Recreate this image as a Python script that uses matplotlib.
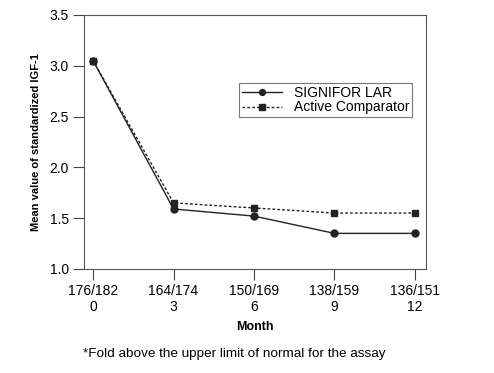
import matplotlib
matplotlib.use('Agg')
import matplotlib.pyplot as plt

plt.rcParams['font.family'] = ['Liberation Sans', 'DejaVu Sans']

months = [0, 3, 6, 9, 12]
n_labels = ['176/182', '164/174', '150/169', '138/159', '136/151']
signifor = [3.05, 1.59, 1.52, 1.35, 1.35]
comparator = [3.05, 1.65, 1.60, 1.55, 1.55]

fig = plt.figure(figsize=(4.94, 3.73), dpi=100)
ax = fig.add_axes([0.170, 0.279, 0.692, 0.681])

ax.plot(months, signifor, color='#222222', lw=1.0, marker='o', ms=5,
        label='SIGNIFOR LAR')
ax.plot(months, comparator, color='#222222', lw=1.0, ls=(0, (2, 1.5)),
        marker='s', ms=5, label='Active Comparator')

ax.set_xlim(-0.34, 12.41)
ax.set_ylim(1.0, 3.5)
ax.set_yticks([1.0, 1.5, 2.0, 2.5, 3.0, 3.5])
ax.set_xticks(months)
ax.set_xticklabels([n + '\n' + str(m) for n, m in zip(n_labels, months)],
                   linespacing=1.15)
ax.tick_params(labelsize=10, direction='out', length=8, width=0.8,
               color='#444444', pad=3)
for s in ax.spines.values():
    s.set_color('#555555')
    s.set_linewidth(0.8)

ax.set_ylabel('Mean value of standardized IGF-1', fontsize=8, fontweight='bold',
              labelpad=6)
ax.set_xlabel('Month', fontsize=9, fontweight='bold', labelpad=5)

leg = ax.legend(loc='upper right', bbox_to_anchor=(0.959, 0.732), fontsize=10,
                frameon=True, fancybox=False, handlelength=2.9, markerscale=0.85,
                borderpad=0.2, labelspacing=0.05, borderaxespad=0)
leg.get_frame().set_edgecolor('#555555')
leg.get_frame().set_linewidth(0.8)

fig.text(0.168, 0.043, '*Fold above the upper limit of normal for the assay',
         fontsize=9.7)

fig.savefig('out.png', dpi=100)
